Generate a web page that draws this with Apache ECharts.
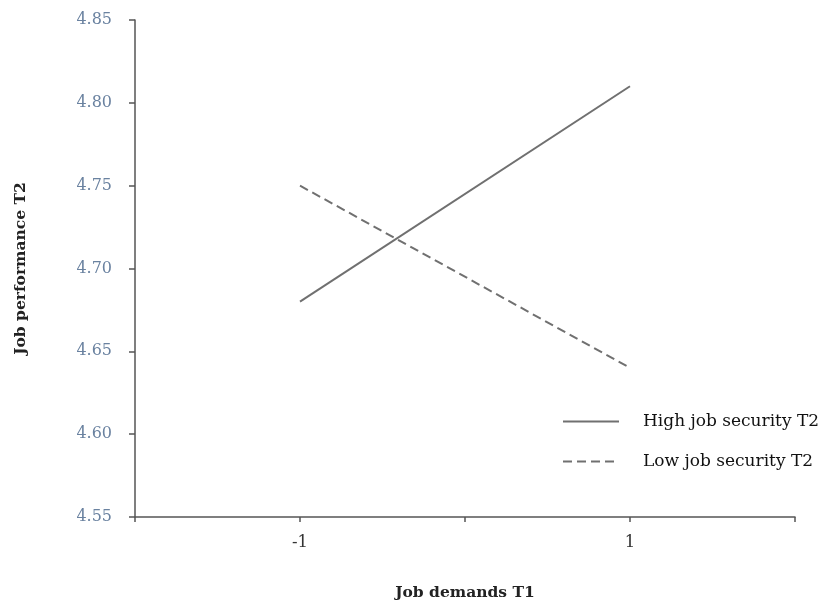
<!DOCTYPE html>
<html><head><meta charset="utf-8">
<script src="https://cdn.jsdelivr.net/npm/echarts@6/dist/echarts.min.js"></script>
<style>html,body{margin:0;padding:0;background:#fff}#c{width:825px;height:606px}</style>
</head><body><div id="c"></div>
<script>
const xValues = [-1, 1];
const highSecurity = [4.68, 4.81];
const lowSecurity = [4.75, 4.64];
const xTickLabels = {"-1": "-1", "1": "1"};
const yTicks = {min: 4.55, max: 4.85, interval: 0.05};
const seriesNames = ["High job security T2", "Low job security T2"];

const chart = echarts.init(document.getElementById('c'));
const font = "'DejaVu Serif', 'Liberation Serif', serif";
chart.setOption({
  animation: false,
  backgroundColor: '#fff',
  grid: {left: 135, top: 20, width: 660, height: 502, containLabel: false},
  legend: {
    orient: 'vertical', left: 557, top: 408, itemWidth: 56, itemHeight: 14, itemGap: 23,
    data: seriesNames,
    itemStyle: {opacity: 0},
    textStyle: {fontFamily: font, fontSize: 17, color: '#111', padding: [0, 0, 0, 19]}
  },
  xAxis: {
    type: 'value', min: -2, max: 2, interval: 1,
    name: 'Job demands T1', nameLocation: 'middle', nameGap: 68,
    nameTextStyle: {fontFamily: font, fontSize: 15.5, fontWeight: 'bold', color: '#222'},
    axisLine: {onZero: false, lineStyle: {color: '#555', width: 1.5}},
    axisTick: {lineStyle: {color: '#555', width: 1.5}, length: 5},
    axisLabel: {margin: 17, fontFamily: font, fontSize: 16.5, color: '#333',
      formatter: v => xTickLabels[String(v)] || ''},
    splitLine: {show: false}
  },
  yAxis: {
    type: 'value', min: yTicks.min, max: yTicks.max, interval: yTicks.interval,
    name: 'Job performance T2', nameLocation: 'middle', nameGap: 106, nameRotate: 90,
    nameTextStyle: {fontFamily: font, fontSize: 15.5, fontWeight: 'bold', color: '#222'},
    axisLine: {show: true, onZero: false, lineStyle: {color: '#555', width: 1.5}},
    axisTick: {show: true, lineStyle: {color: '#555', width: 1.5}, length: 6},
    axisLabel: {margin: 23, fontFamily: font, fontSize: 16, color: '#6a82a0',
      formatter: v => v.toFixed(2)},
    splitLine: {show: false}
  },
  series: [
    {name: seriesNames[0], type: 'line', symbol: 'none',
      data: xValues.map((x, i) => [x, highSecurity[i]]),
      lineStyle: {color: '#707070', width: 2}, itemStyle: {color: '#707070'}},
    {name: seriesNames[1], type: 'line', symbol: 'none',
      data: xValues.map((x, i) => [x, lowSecurity[i]]),
      lineStyle: {color: '#707070', width: 2, type: [9, 5]}, itemStyle: {color: '#707070'}}
  ]
});
</script></body></html>
